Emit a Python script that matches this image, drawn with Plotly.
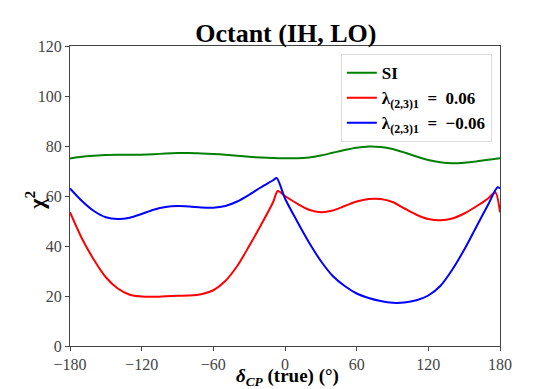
import plotly.graph_objects as go

# delta_CP (true) in degrees and chi^2 values
si_x = [-180, -170, -160, -150, -140, -130, -120, -110, -100, -90, -80, -70, -60, -50, -40, -30,
        -20, -10, 0, 10, 20, 30, 40, 50, 60, 70, 80, 90, 100, 110, 120, 130, 140, 150, 160, 170, 180]
si_y = [75.0, 75.7, 76.1, 76.4, 76.5, 76.5, 76.5, 76.7, 77.0, 77.2, 77.2, 77.0, 76.8, 76.5, 76.1, 75.7,
        75.4, 75.2, 75.1, 75.1, 75.4, 76.2, 77.3, 78.4, 79.3, 79.8, 79.6, 78.8, 77.4, 75.8, 74.4, 73.5,
        73.1, 73.3, 73.8, 74.5, 75.1]

pos_x = [-180, -170, -160, -150, -140, -130, -120, -110, -100, -90, -80, -70, -60, -50, -40, -30,
         -20, -10, -6, 0, 10, 20, 30, 40, 50, 60, 70, 80, 90, 100, 110, 120, 130, 140, 150, 160, 170,
         176, 180]
pos_y = [53.5, 43.0, 34.5, 27.5, 23.0, 20.5, 19.8, 19.7, 19.9, 20.1, 20.2, 20.7, 22.3, 26.0, 32.0, 40.0,
         48.5, 57.5, 62.0, 60.0, 57.0, 54.5, 53.5, 54.2, 56.0, 57.8, 58.8, 58.8, 57.6, 55.0, 52.5, 50.8,
         50.3, 51.0, 53.0, 55.8, 59.0, 61.5, 53.5]

neg_x = [-180, -170, -160, -150, -140, -130, -120, -110, -100, -90, -80, -70, -60, -50, -40, -30,
         -20, -10, -7, 0, 10, 20, 30, 40, 50, 60, 70, 80, 90, 100, 110, 120, 130, 140, 150, 160, 170,
         178, 180]
neg_y = [63.0, 58.0, 54.0, 51.5, 50.8, 51.3, 52.8, 54.5, 55.6, 56.0, 55.8, 55.4, 55.3, 56.0, 57.8, 60.5,
         63.5, 66.3, 67.2, 59.0, 50.0, 41.5, 34.0, 28.0, 24.0, 21.0, 19.2, 18.0, 17.3, 17.4, 18.3, 20.2,
         24.0, 30.5, 38.5, 47.5, 56.5, 63.5, 63.0]

serif = "Liberation Serif"
sp = "\u00a0\u00a0"

fig = go.Figure()
fig.add_trace(go.Scatter(x=si_x, y=si_y, mode="lines", name="<b>SI</b>",
                         line=dict(color="green", width=2, shape="spline", smoothing=0.8)))
fig.add_trace(go.Scatter(x=pos_x, y=pos_y, mode="lines",
                         name=f"<b>λ<sub>(2,3)1</sub>{sp}={sp}0.06</b>",
                         line=dict(color="red", width=2, shape="spline", smoothing=0.8)))
fig.add_trace(go.Scatter(x=neg_x, y=neg_y, mode="lines",
                         name=f"<b>λ<sub>(2,3)1</sub>{sp}={sp}−0.06</b>",
                         line=dict(color="blue", width=2, shape="spline", smoothing=0.8)))

axis_style = dict(showline=True, linecolor="#444", linewidth=1, mirror=True, automargin=False,
                  ticks="outside", ticklen=4, tickcolor="#444", showgrid=False, zeroline=False,
                  tickfont=dict(family=serif, size=16, color="#444"))

# the page body adds an 8px offset, so the figure is a little smaller than the window
fig.update_layout(
    width=548, height=381,
    margin=dict(l=62, r=56, t=38, b=43),
    paper_bgcolor="white", plot_bgcolor="white",
    title=dict(text="<b>Octant (IH, LO)</b>", x=0.507, xanchor="center", y=0.934, yanchor="middle",
               font=dict(family=serif, size=26, color="black")),
    xaxis=dict(range=[-180, 180], dtick=60, tick0=-180, **axis_style),
    yaxis=dict(range=[0, 120], dtick=20, **axis_style),
    legend=dict(x=0.981, y=0.973, xanchor="right", yanchor="top",
                bgcolor="rgba(255,255,255,0.9)", bordercolor="#ddd", borderwidth=1,
                font=dict(family=serif, size=17, color="black"), tracegroupgap=0),
    showlegend=True,
)

fig.add_annotation(text="<b><i>δ<sub>CP</sub></i> (true) (°)</b>", xref="paper", yref="paper",
                   x=0.505, y=-0.104, xanchor="center", yanchor="middle", showarrow=False,
                   font=dict(family=serif, size=19, color="black"))
fig.add_annotation(text="<b>χ<sup>2</sup></b>", xref="paper", yref="paper", textangle=-90,
                   x=-0.082, y=0.487, xanchor="center", yanchor="middle", showarrow=False,
                   font=dict(family=serif, size=22, color="black"))

fig.write_html("out.html")
